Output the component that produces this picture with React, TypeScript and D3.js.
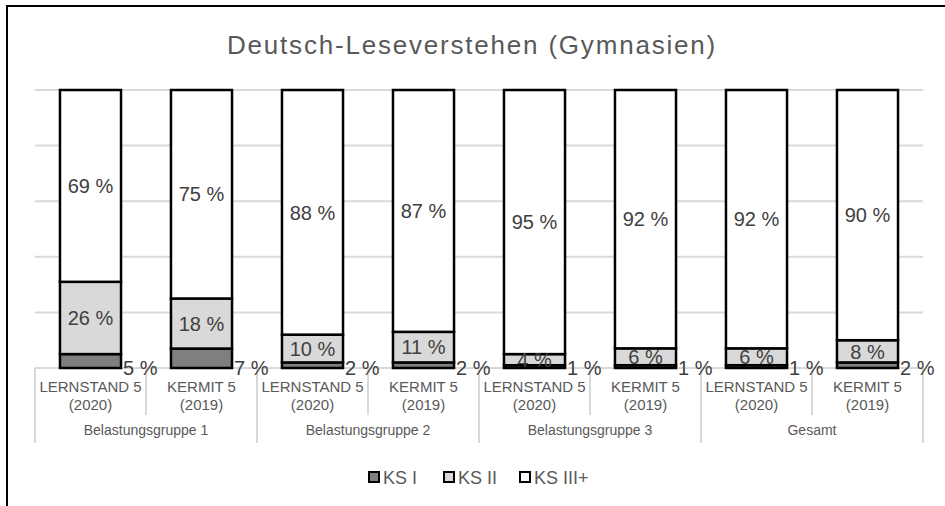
import { useEffect, useRef } from 'react';
import * as d3 from 'd3';

// chart values
const catLine1 = ['LERNSTAND 5', 'KERMIT 5', 'LERNSTAND 5', 'KERMIT 5', 'LERNSTAND 5', 'KERMIT 5', 'LERNSTAND 5', 'KERMIT 5'];
const catLine2 = ['(2020)', '(2019)', '(2020)', '(2019)', '(2020)', '(2019)', '(2020)', '(2019)'];
const groups = ['Belastungsgruppe 1', 'Belastungsgruppe 2', 'Belastungsgruppe 3', 'Gesamt'];
const ks1 = [5, 7, 2, 2, 1, 1, 1, 2];
const ks2 = [26, 18, 10, 11, 4, 6, 6, 8];
const ks3 = [69, 75, 88, 87, 95, 92, 92, 90];
const seriesNames = ['KS I', 'KS II', 'KS III+'];
const seriesColors = ['#7f7f7f', '#d9d9d9', '#ffffff'];
const yTicks = [0.2, 0.4, 0.6, 0.8, 1];

const App = () => {
  const ref = useRef<SVGSVGElement>(null);

  useEffect(() => {
    const svg = d3.select(ref.current);
    svg.selectAll('*').remove();

    const width = 945; const height = 506;
    const left = 35; const right = 923; const top = 90; const bottom = 368;
    const font = 'Liberation Sans, Arial, sans-serif';

    const keys = ['ks1', 'ks2', 'ks3'];
    const rows = catLine1.map((c, i) => ({ id: String(i), ks1: ks1[i], ks2: ks2[i], ks3: ks3[i] }));

    const x = d3.scaleBand().domain(rows.map(d => d.id)).range([left, right]).paddingInner(0.45).paddingOuter(0.225);
    const cell = d3.scaleBand().domain(rows.map(d => d.id)).range([left, right]);
    const y = d3.scaleLinear().domain([0, 1]).range([bottom, top]);

    const stacked = d3.stack<any>().keys(keys).offset(d3.stackOffsetExpand)(rows);

    // outer frame
    svg.append('rect')
      .attr('x', 7).attr('y', 6).attr('width', 1000).attr('height', 600)
      .attr('fill', '#fff').attr('stroke', '#000').attr('stroke-width', 2);

    svg.append('text')
      .attr('x', 472).attr('y', 54)
      .attr('text-anchor', 'middle')
      .attr('font-family', font).attr('font-size', 26)
      .attr('letter-spacing', 1.8)
      .attr('fill', '#595959')
      .text('Deutsch-Leseverstehen (Gymnasien)');

    // gridlines
    svg.append('g').selectAll('line').data(yTicks).enter().append('line')
      .attr('x1', left).attr('x2', right)
      .attr('y1', d => y(d)).attr('y2', d => y(d))
      .attr('stroke', '#d9d9d9').attr('stroke-width', 2);

    // category axis line + tick separators
    svg.append('line')
      .attr('x1', left).attr('x2', right).attr('y1', bottom).attr('y2', bottom)
      .attr('stroke', '#d9d9d9').attr('stroke-width', 2);

    const bounds = d3.range(rows.length + 1);
    svg.append('g').selectAll('line').data(bounds).enter().append('line')
      .attr('x1', i => left + i * cell.step()).attr('x2', i => left + i * cell.step())
      .attr('y1', bottom)
      .attr('y2', i => (i % 2 === 0 ? 443 : 415))
      .attr('stroke', '#d9d9d9').attr('stroke-width', 2);

    // bars
    stacked.forEach((s, si) => {
      svg.append('g').selectAll('rect').data(s).enter().append('rect')
        .attr('x', d => x(d.data.id)!)
        .attr('width', x.bandwidth())
        .attr('y', d => y(d[1]))
        .attr('height', d => y(d[0]) - y(d[1]))
        .attr('fill', seriesColors[si])
        .attr('stroke', '#000').attr('stroke-width', 2.5);
    });

    // data labels
    const raw = [ks1, ks2, ks3];
    stacked.forEach((s, si) => {
      svg.append('g').selectAll('text').data(s).enter().append('text')
        .attr('x', d => (si === 0 ? x(d.data.id)! + x.bandwidth() + 2 : x(d.data.id)! + x.bandwidth() / 2))
        .attr('y', d => (si === 0 ? y(0) : y((d[0] + d[1]) / 2)))
        .attr('dy', '0.36em')
        .attr('text-anchor', si === 0 ? 'start' : 'middle')
        .attr('font-family', font).attr('font-size', 20)
        .attr('fill', '#404040')
        .text((d, i) => `${raw[si][i]} %`);
    });

    // category labels
    const catG = svg.append('g')
      .attr('font-family', font).attr('font-size', 15).attr('fill', '#595959').attr('text-anchor', 'middle');
    catG.selectAll('.l1').data(rows).enter().append('text')
      .attr('x', d => cell(d.id)! + cell.bandwidth() / 2).attr('y', 392)
      .text((d, i) => catLine1[i]);
    catG.selectAll('.l2').data(rows).enter().append('text')
      .attr('x', d => cell(d.id)! + cell.bandwidth() / 2).attr('y', 410)
      .text((d, i) => catLine2[i]);

    svg.append('g').selectAll('text').data(groups).enter().append('text')
      .attr('x', (d, i) => left + (i * 2 + 1) * cell.step())
      .attr('y', 435)
      .attr('text-anchor', 'middle')
      .attr('font-family', font).attr('font-size', 14).attr('fill', '#595959')
      .text(d => d);

    // legend
    const legendX = [368, 443, 519];
    const lg = svg.append('g').selectAll('g').data(seriesNames).enter().append('g')
      .attr('transform', (d, i) => `translate(${legendX[i]}, 471)`);
    lg.append('rect')
      .attr('x', 1).attr('y', 1).attr('width', 10).attr('height', 10)
      .attr('fill', (d, i) => seriesColors[i])
      .attr('stroke', '#000').attr('stroke-width', 2);
    lg.append('text')
      .attr('x', 15).attr('y', 12.5)
      .attr('font-family', font).attr('font-size', 18).attr('fill', '#595959')
      .text(d => d);

    svg.attr('width', width).attr('height', height);
  }, []);

  return <svg ref={ref} width={945} height={506} style={{ position: 'absolute', left: 0, top: 0 }} />;
};

export default App;
